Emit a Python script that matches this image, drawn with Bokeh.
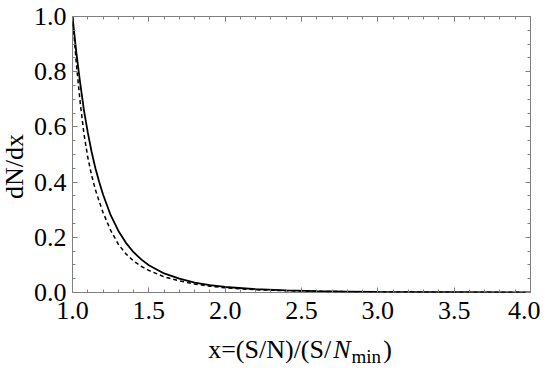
from bokeh.plotting import figure
from bokeh.models import (LinearAxis, Range1d, SingleIntervalTicker, NumeralTickFormatter,
                          CustomJSTickFormatter, Div)
from bokeh.layouts import column, row
from bokeh.embed import file_html
from bokeh.resources import INLINE

# Solid curve
x_solid = [1.0, 1.025, 1.05, 1.075, 1.1, 1.125, 1.15, 1.175, 1.2, 1.25, 1.3, 1.35, 1.4, 1.45, 1.5,
           1.6, 1.7, 1.8, 1.9, 2.0, 2.2, 2.4, 2.6, 2.8, 3.0, 3.5, 4.0]
y_solid = [1.0, 0.87, 0.76, 0.66, 0.58, 0.51, 0.45, 0.40, 0.355, 0.28, 0.224, 0.18, 0.146, 0.12, 0.099,
           0.069, 0.050, 0.036, 0.027, 0.020, 0.012, 0.0075, 0.005, 0.0035, 0.0024, 0.001, 0.0005]

# Dashed curve
x_dash = [1.0, 1.025, 1.05, 1.075, 1.1, 1.125, 1.15, 1.175, 1.2, 1.25, 1.3, 1.35, 1.4, 1.45, 1.5,
          1.6, 1.7, 1.8, 1.9, 2.0, 2.2, 2.4, 2.6, 2.8, 3.0, 3.5, 4.0]
y_dash = [1.0, 0.83, 0.69, 0.575, 0.49, 0.425, 0.372, 0.33, 0.29, 0.225, 0.175, 0.14, 0.114, 0.095, 0.080,
          0.057, 0.042, 0.031, 0.023, 0.017, 0.010, 0.0065, 0.0043, 0.003, 0.002, 0.0008, 0.0004]

x_range = (1.0, 4.0)
y_range = (0.0, 1.0)
x_title_html = ("<div style='position:relative;top:3px'>x=(S/N)/(S/"
                "<i style='padding:0 1px 0 2px'>N</i>"
                "<span style='font-size:19px;position:relative;top:5px;line-height:0'>min</span>"
                "<span style='padding-left:2px'>)</span></div>")
y_title = "dN/dx"

FONT = "Liberation Serif"
GRAY = "#7f7f7f"

p = figure(width=510, height=334, output_backend="svg", toolbar_location=None,
           x_range=Range1d(*x_range), y_range=Range1d(*y_range),
           x_axis_location=None, y_axis_location=None,
           min_border_left=40, min_border_right=10, min_border_top=16, min_border_bottom=42)
p.grid.visible = False
p.outline_line_color = GRAY
p.outline_line_width = 1
p.background_fill_color = "white"
p.border_fill_color = "white"

def make_axis(interval, minor, show_labels, standoff=6):
    ax = LinearAxis(ticker=SingleIntervalTicker(interval=interval, num_minor_ticks=minor))
    ax.axis_line_color = None
    ax.major_tick_in = 5
    ax.major_tick_out = 0
    ax.minor_tick_in = 3
    ax.minor_tick_out = 0
    ax.major_tick_line_color = GRAY
    ax.minor_tick_line_color = GRAY
    if show_labels:
        ax.formatter = NumeralTickFormatter(format="0.0")
        ax.major_label_text_font = FONT
        ax.major_label_text_font_size = "26px"
        ax.major_label_text_color = "black"
        ax.major_label_standoff = standoff
    else:
        ax.formatter = CustomJSTickFormatter(code="return ''")
        ax.major_label_text_font_size = "1px"
        ax.major_label_standoff = 0
    return ax

p.add_layout(make_axis(0.5, 5, True, standoff=9), "below")
p.add_layout(make_axis(0.5, 5, False), "above")
p.add_layout(make_axis(0.2, 4, True, standoff=6), "left")
p.add_layout(make_axis(0.2, 4, False), "right")

p.line(x_solid, y_solid, line_color="black", line_width=1.8)
p.line(x_dash, y_dash, line_color="black", line_width=1.5, line_dash="4 3")

x_title = Div(text=x_title_html, width=480, height=26, margin=(0, 0, 0, 30),
              styles={"font-family": FONT, "font-size": "26px", "line-height": "26px",
                      "text-align": "center", "color": "black", "white-space": "nowrap"})

y_label = Div(text=y_title, width=30, height=334, margin=(0, 0, 0, 0),
              styles={"font-family": FONT, "font-size": "26px", "line-height": "30px",
                      "writing-mode": "vertical-rl", "transform": "rotate(180deg)",
                      "text-align": "center", "color": "black", "white-space": "nowrap"})

layout = row(y_label, column(p, x_title, spacing=0), spacing=0)
open("out.html", "w").write(file_html(layout, INLINE))
